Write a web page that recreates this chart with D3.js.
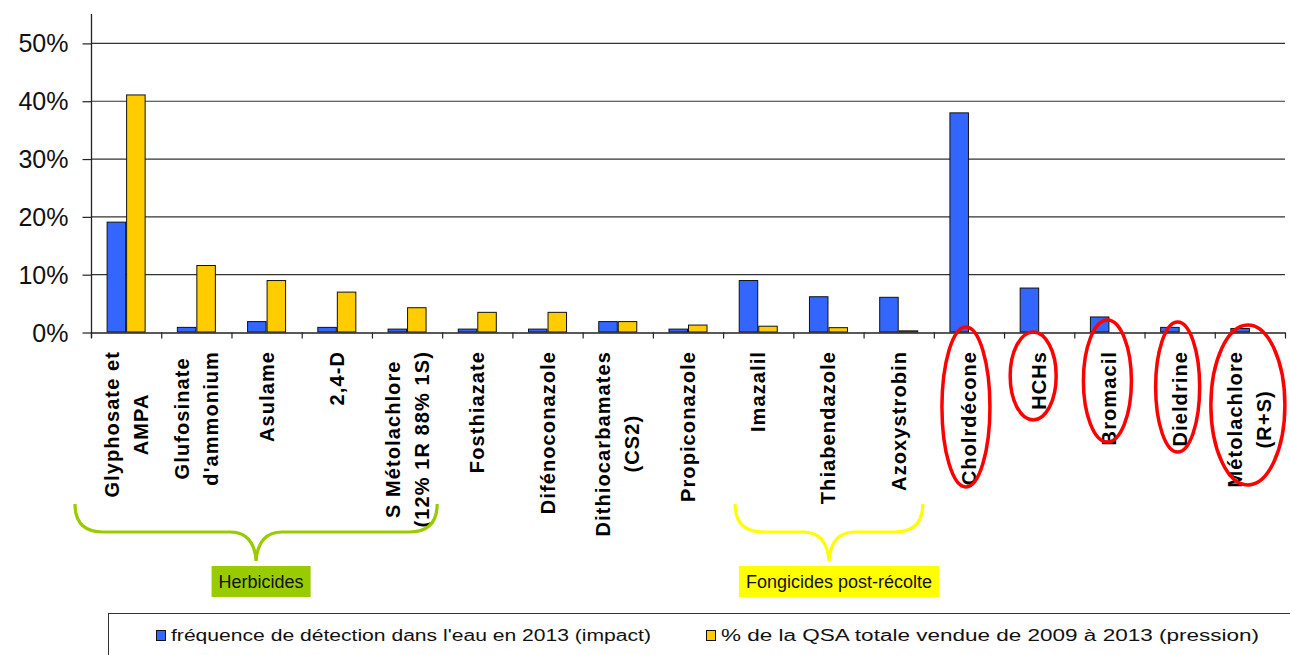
<!DOCTYPE html>
<html>
<head>
<meta charset="utf-8">
<script src="https://cdn.jsdelivr.net/npm/d3@7"></script>
<style>
  html, body { margin: 0; padding: 0; background: #fff; }
  svg { display: block; }
  text { font-family: "Liberation Sans", Arial, sans-serif; }
</style>
</head>
<body>
<svg id="chart" width="1290" height="655"></svg>
<script>
// ---------------- data ----------------
const categories = [
  "Glyphosate et\nAMPA", "Glufosinate\nd'ammonium", "Asulame", "2,4-D",
  "S Métolachlore\n(12% 1R 88% 1S)", "Fosthiazate", "Difénoconazole",
  "Dithiocarbamates\n(CS2)", "Propiconazole", "Imazalil", "Thiabendazole",
  "Azoxystrobin", "Cholrdécone", "HCHs", "Bromacil", "Dieldrine",
  "Métolachlore\n(R+S)"
];
const impact   = [19, 0.8, 1.8, 0.8, 0.5, 0.5, 0.5, 1.8, 0.5, 8.9, 6.1, 6.0, 37.9, 7.6, 2.6, 0.8, 0.6];
const pression = [41, 11.5, 8.9, 6.9, 4.2, 3.4, 3.4, 1.8, 1.2, 1.0, 0.75, 0.2, 0, 0, 0, 0, 0];
const seriesNames = [
  "fréquence de détection dans l'eau en 2013 (impact)",
  "% de la QSA totale vendue de 2009 à 2013 (pression)"
];
const yTicks = [0, 10, 20, 30, 40, 50];
const groupNames = ["Herbicides", "Fongicides post-récolte"];
const groupFirst = [0, 9];
const groupLast = [4, 11];
const highlighted = [12, 13, 14, 15, 16];

// ---------------- layout ----------------
const svg = d3.select("#chart");
const pL = 91, pR = 1285, pT = 14, pB = 332;
const colors = ["#3366FF", "#FFCC00"];

const x = d3.scaleBand().domain(d3.range(categories.length)).range([pL, pR]).paddingInner(0).paddingOuter(0);
const xs = d3.scaleBand().domain([0, 1]).range([0, x.bandwidth()]).paddingInner(0).paddingOuter(0.8);
const y = d3.scaleLinear().domain([0, 55]).range([pB, pT]);

// gridlines
svg.append("g").selectAll("line").data(yTicks.filter(t => t > 0)).join("line")
  .attr("x1", pL).attr("x2", pR)
  .attr("y1", d => y(d) + 0.5).attr("y2", d => y(d) + 0.5)
  .attr("stroke", "#333").attr("stroke-width", 1.2);

// y axis
const yAxis = d3.axisLeft(y).tickValues(yTicks).tickFormat(d => d + "%").tickSize(9).tickPadding(14);
const yg = svg.append("g").attr("transform", `translate(${pL + 0.5},0)`).call(yAxis);
yg.select(".domain").attr("stroke", "#222").attr("stroke-width", 1.3).attr("d", `M0,${pT}V${pB + 6}`);
yg.selectAll(".tick line").attr("stroke", "#222").attr("stroke-width", 1.2).attr("transform", "translate(0,0.5)");
yg.selectAll(".tick text").attr("font-size", 25).attr("fill", "#111")
  .attr("font-family", "'Liberation Sans', Arial, sans-serif").attr("dy", "0.36em");

// bars
const series = [impact, pression];
const bars = svg.append("g");
series.forEach((vals, s) => {
  bars.selectAll(null).data(vals.map((v, i) => ({v, i}))).join("rect")
    .filter(d => d.v > 0)
    .attr("x", d => x(d.i) + xs(s) + 0.5)
    .attr("y", d => y(d.v))
    .attr("width", xs.bandwidth() - 1)
    .attr("height", d => Math.max(1, y(0) - y(d.v)))
    .attr("fill", colors[s])
    .attr("stroke", "#111").attr("stroke-width", 1);
});

// x axis
const xAxis = d3.axisBottom(x).tickValues([]).tickSizeOuter(0);
const xg = svg.append("g").attr("transform", `translate(0,${pB + 0.5})`).call(xAxis);
xg.select(".domain").attr("stroke", "#222").attr("stroke-width", 1.3);
const boundaries = d3.range(categories.length + 1).map(i => i < categories.length ? x(i) : pR);
xg.selectAll("line.bt").data(boundaries).join("line").attr("class", "bt")
  .attr("x1", d => d + 0.5).attr("x2", d => d + 0.5).attr("y1", 0).attr("y2", 6)
  .attr("stroke", "#222").attr("stroke-width", 1.2);

// category labels (rotated)
const labelTop = 351;
const lg = svg.append("g").selectAll("g").data(categories).join("g")
  .attr("transform", (d, i) => `translate(${x(i) + x.bandwidth() / 2},${labelTop}) rotate(-90)`);
lg.each(function(d) {
  const lines = d.split("\n");
  const g = d3.select(this);
  const t = g.selectAll("text").data(lines).join("text")
    .attr("font-size", 20).attr("font-weight", "bold").attr("letter-spacing", "1.1px")
    .attr("fill", "#000").attr("dominant-baseline", "central")
    .attr("y", (l, j) => (j - (lines.length - 1) / 2) * 29)
    .text(l => l);
  let maxLen = 0;
  t.each(function() { maxLen = Math.max(maxLen, this.getComputedTextLength()); });
  t.attr("text-anchor", "middle").attr("x", -maxLen / 2);
});

// group braces
const braceColors = ["#99CC00", "#FFFF00"];
const braceExt = [[-16, -5], [12, -11]];
const boxShift = [5, 10];
groupNames.forEach((name, k) => {
  const xl = x(groupFirst[k]) + braceExt[k][0];
  const xr = x(groupLast[k]) + x.bandwidth() + braceExt[k][1];
  const xm = (xl + xr) / 2;
  const yt = 504, yh = 532, yp = 561;
  const p = d3.path();
  p.moveTo(xl, yt);
  p.quadraticCurveTo(xl, yh, xl + 28, yh);
  p.lineTo(xm - 26, yh);
  p.quadraticCurveTo(xm - 2, yh, xm, yp);
  p.quadraticCurveTo(xm + 2, yh, xm + 26, yh);
  p.lineTo(xr - 28, yh);
  p.quadraticCurveTo(xr, yh, xr, yt);
  svg.append("path").attr("d", p.toString()).attr("fill", "none")
    .attr("stroke", braceColors[k]).attr("stroke-width", 3.2);

  const gt = svg.append("g");
  const txt = gt.append("text").attr("font-size", 18).attr("fill", "#111")
    .attr("text-anchor", "middle").attr("dominant-baseline", "central").text(name);
  const w = txt.node().getComputedTextLength() + 14;
  const cx = xm + boxShift[k];
  gt.insert("rect", "text").attr("x", cx - w / 2).attr("y", 566).attr("width", w).attr("height", 31)
    .attr("fill", braceColors[k]);
  txt.attr("x", cx).attr("y", 582);
});

// red ellipses
const ellDx = [-3, -6, -2, -2, -2];
const ellRy = [80, 44, 61, 65, 80];
const ellRx = [24, 23, 24, 22, 37];
const ellCy = [407, 376, 381, 387, 405];
svg.append("g").selectAll("ellipse").data(highlighted).join("ellipse")
  .attr("cx", (d, i) => x(d) + x.bandwidth() / 2 + ellDx[i])
  .attr("cy", (d, i) => ellCy[i])
  .attr("rx", (d, i) => ellRx[i])
  .attr("ry", (d, i) => ellRy[i])
  .attr("fill", "none").attr("stroke", "#FF0000").attr("stroke-width", 3.5);

// legend
const leg = svg.append("g");
leg.append("rect").attr("x", 108.5).attr("y", 613.5).attr("width", 1250).attr("height", 80)
  .attr("fill", "#fff").attr("stroke", "#333").attr("stroke-width", 1);
const legX = [156, 706];
const legW = [480, 538];
seriesNames.forEach((name, s) => {
  leg.append("rect").attr("x", legX[s] + 0.5).attr("y", 630.5).attr("width", 9).attr("height", 10)
    .attr("fill", colors[s]).attr("stroke", "#111").attr("stroke-width", 1);
  leg.append("text").attr("x", legX[s] + 15).attr("y", 641).attr("font-size", 16).attr("fill", "#111")
    .attr("textLength", legW[s]).attr("lengthAdjust", "spacingAndGlyphs").text(name);
});
</script>
</body>
</html>
